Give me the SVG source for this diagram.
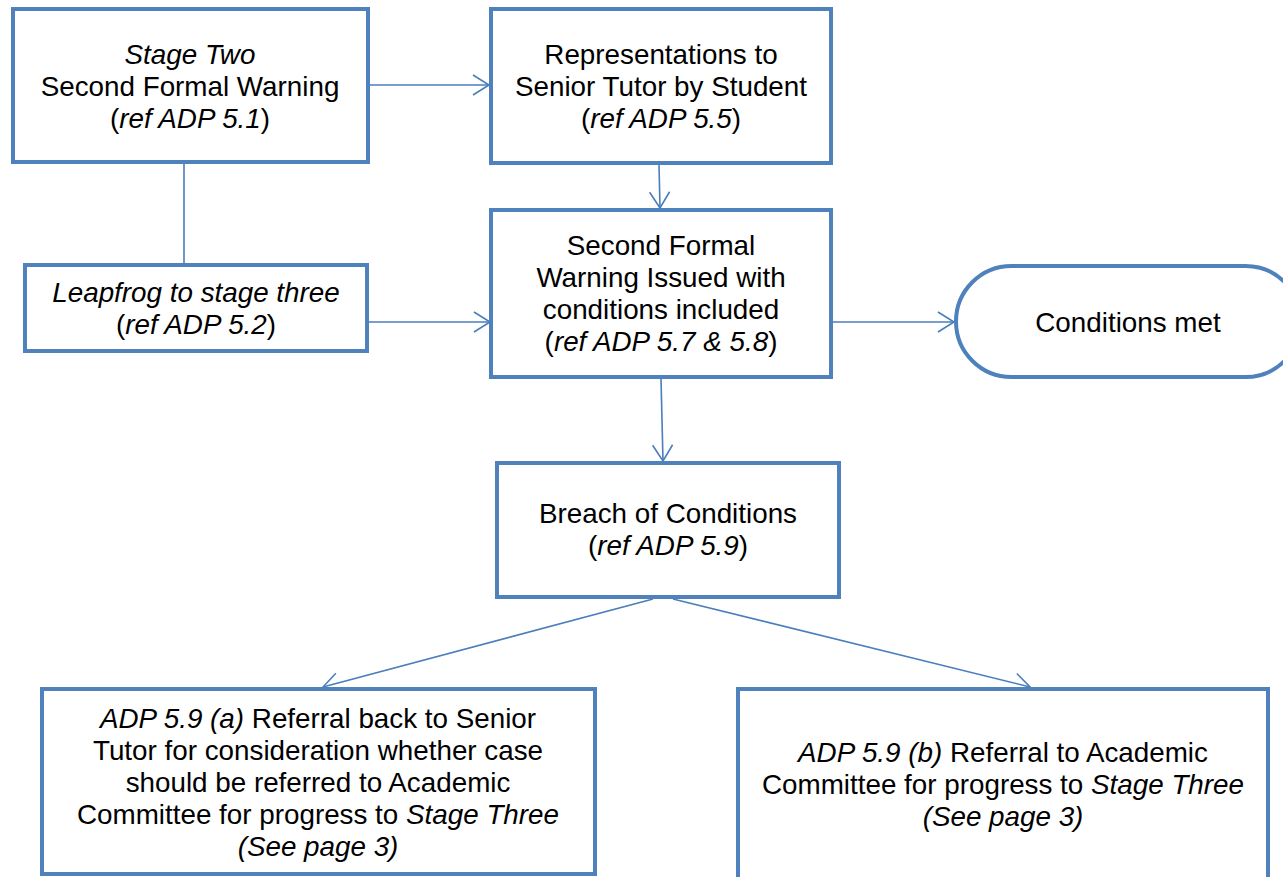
<svg xmlns="http://www.w3.org/2000/svg" width="1283" height="877" viewBox="0 0 1283 877">
<defs>
<style>
.box{fill:#fff;stroke:#4F81BD;stroke-width:4;stroke-linejoin:miter}
.con{fill:none;stroke:#4A7EBB;stroke-width:1.6}
.t{font-family:"Liberation Sans",Arial,sans-serif;font-size:27.8px;fill:#000;text-anchor:middle}
.i{font-style:italic}
</style>
<marker id="arr" markerUnits="userSpaceOnUse" markerWidth="24" markerHeight="24" viewBox="-20 -12 22 24" refX="0" refY="0" orient="auto">
<path d="M-16,-10 L0,0 L-16,10" fill="none" stroke="#4A7EBB" stroke-width="1.6"/>
</marker>
</defs>
<rect width="1283" height="877" fill="#fff"/>
<g id="connectors">
<path class="con" d="M370,85 H489" marker-end="url(#arr)"/>
<path class="con" d="M184,164 V263"/>
<path class="con" d="M659,165 L660,208" marker-end="url(#arr)"/>
<path class="con" d="M369,322 H490" marker-end="url(#arr)"/>
<path class="con" d="M833,322 H954" marker-end="url(#arr)"/>
<path class="con" d="M661,379 L663,461" marker-end="url(#arr)"/>
<path class="con" d="M653,599 L323,687" marker-end="url(#arr)"/>
<path class="con" d="M673,599 L1030,687" marker-end="url(#arr)"/>
</g>
<g id="stage-two">
<rect class="box" x="13" y="9" width="355" height="153"/>
<text class="t" x="190" y="64"><tspan class="i">Stage Two</tspan></text>
<text class="t" x="190" y="96">Second Formal Warning</text>
<text class="t" x="190" y="128">(<tspan class="i">ref ADP 5.1</tspan>)</text>
</g>
<g id="representations">
<rect class="box" x="491" y="9" width="340" height="154"/>
<text class="t" x="661" y="64">Representations to</text>
<text class="t" x="661" y="96">Senior Tutor by Student</text>
<text class="t" x="661" y="128">(<tspan class="i">ref ADP 5.5</tspan>)</text>
</g>
<g id="second-warning-issued">
<rect class="box" x="491" y="210" width="340" height="167"/>
<text class="t" x="661" y="255">Second Formal</text>
<text class="t" x="661" y="287">Warning Issued with</text>
<text class="t" x="661" y="319">conditions included</text>
<text class="t" x="661" y="351">(<tspan class="i">ref ADP 5.7 &amp; 5.8</tspan>)</text>
</g>
<g id="leapfrog">
<rect class="box" x="25" y="265" width="342" height="86"/>
<text class="t" x="196" y="302"><tspan class="i">Leapfrog to stage three</tspan></text>
<text class="t" x="196" y="334">(<tspan class="i">ref ADP 5.2</tspan>)</text>
</g>
<g id="conditions-met">
<rect class="box" x="956" y="266" width="345" height="111" rx="55.5" ry="55.5"/>
<text class="t" x="1128" y="332">Conditions met</text>
</g>
<g id="breach">
<rect class="box" x="497" y="463" width="342" height="134"/>
<text class="t" x="668" y="523">Breach of Conditions</text>
<text class="t" x="668" y="555">(<tspan class="i">ref ADP 5.9</tspan>)</text>
</g>
<g id="referral-a">
<rect class="box" x="42" y="689" width="553" height="185"/>
<text class="t" x="318" y="728"><tspan class="i">ADP 5.9 (a)</tspan> Referral back to Senior</text>
<text class="t" x="318" y="760">Tutor for consideration whether case</text>
<text class="t" x="318" y="792">should be referred to Academic</text>
<text class="t" x="318" y="824">Committee for progress to <tspan class="i">Stage Three</tspan></text>
<text class="t" x="318" y="856"><tspan class="i">(See page 3)</tspan></text>
</g>
<g id="referral-b">
<rect class="box" x="738" y="689" width="530" height="200"/>
<text class="t" x="1003" y="762"><tspan class="i">ADP 5.9 (b)</tspan> Referral to Academic</text>
<text class="t" x="1003" y="794">Committee for progress to <tspan class="i">Stage Three</tspan></text>
<text class="t" x="1003" y="826"><tspan class="i">(See page 3)</tspan></text>
</g>
</svg>
